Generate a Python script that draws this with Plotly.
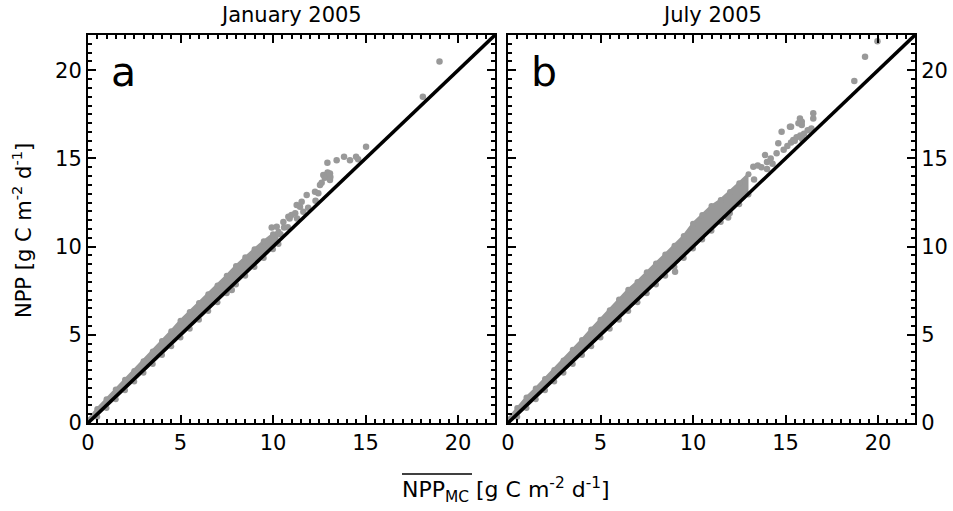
import plotly.graph_objects as go

# ---------------- data ----------------
# 1:1 reference line
line_x = [0, 22]
line_y = [0, 22]

# Panel a (January 2005): dense band of points, upper / lower edge
band_a_x  = [0, 0.5, 1, 1.5, 2, 2.5, 3, 3.5, 4, 4.5, 5, 5.5, 6, 6.5, 7, 7.5, 8, 8.5, 9, 9.5, 10, 10.3]
band_a_hi = [0.15, 0.8, 1.35, 1.9, 2.45, 2.95, 3.5, 4.05, 4.65, 5.2, 5.8, 6.3, 6.8, 7.3, 7.8, 8.35, 8.9, 9.4, 9.85, 10.3, 10.7, 10.85]
band_a_lo = [0, 0.35, 0.85, 1.35, 1.85, 2.35, 2.85, 3.35, 3.85, 4.35, 4.85, 5.35, 5.85, 6.35, 6.85, 7.35, 7.85, 8.35, 8.85, 9.35, 9.85, 10.15]
# Panel a: scattered points outside the dense band
pts_a_x = [7.77, 9.93, 10.2, 10.4, 10.56, 10.6, 10.8, 10.83, 10.9, 11.0, 11.2, 11.28, 11.3, 11.46, 11.55,
           11.64, 11.82, 11.9, 12.27, 12.3, 12.45, 12.54, 12.63, 12.72, 12.8, 12.9, 12.94, 12.95, 13.08,
           13.08, 13.1, 13.44, 13.84, 14.16, 14.49, 14.6, 15.03, 18.1, 19.0]
pts_a_y = [7.54, 11.09, 11.13, 10.7, 11.4, 11.09, 11.1, 11.7, 11.6, 11.8, 11.9, 12.36, 11.6, 12.26, 12.55,
           11.98, 12.93, 12.2, 13.11, 12.6, 13.02, 13.49, 13.62, 14.06, 13.9, 14.0, 14.76, 14.2, 14.15,
           13.78, 13.95, 14.9, 15.1, 14.9, 15.1, 14.95, 15.66, 18.5, 20.5]

# Panel b (July 2005): dense band of points, upper / lower edge
band_b_x  = [0, 0.5, 1, 1.5, 2, 2.5, 3, 3.5, 4, 4.5, 5, 5.5, 6, 6.5, 7, 7.5, 8, 8.5, 9, 9.5, 10,
             10.5, 11, 11.5, 12, 12.5, 13]
band_b_hi = [0.2, 0.85, 1.45, 1.95, 2.5, 3.0, 3.55, 4.15, 4.7, 5.3, 5.85, 6.4, 7.0, 7.55, 8.0, 8.55,
             9.05, 9.55, 10.05, 10.6, 11.3, 11.8, 12.3, 12.65, 13.1, 13.6, 14.1]
band_b_lo = [0, 0.35, 0.85, 1.35, 1.85, 2.35, 2.85, 3.35, 3.85, 4.35, 4.85, 5.35, 5.85, 6.35, 6.85,
             7.35, 7.85, 8.35, 8.85, 9.35, 9.9, 10.4, 10.9, 11.4, 11.9, 12.4, 12.95]
# Panel b: scattered points outside the dense band
pts_b_x = [9.03, 11.9, 13.26, 13.3, 13.5, 13.7, 13.89, 14.0, 14.0, 14.2, 14.3, 14.52, 14.61, 14.79,
           14.9, 15.1, 15.24, 15.3, 15.3, 15.42, 15.5, 15.6, 15.7, 15.78, 15.8, 15.88, 15.88, 15.9,
           16.0, 16.2, 16.4, 16.5, 16.5, 18.72, 19.3, 19.97]
pts_b_y = [8.58, 11.65, 14.53, 13.8, 14.6, 14.5, 15.19, 14.8, 14.4, 15.0, 14.7, 15.29, 15.86, 16.51,
           15.5, 15.7, 16.8, 15.9, 16.8, 16.04, 16.0, 16.2, 16.99, 17.27, 16.3, 16.89, 17.08, 16.1,
           16.4, 16.6, 16.7, 17.56, 17.27, 19.39, 20.77, 21.65]

tick_vals = [0, 5, 10, 15, 20]
tick_text = ["0", "5", "10", "15", "20"]
panel_titles = ["January 2005", "July 2005"]
panel_letters = ["a", "b"]

# ---------------- styling ----------------
GRAY = "#999999"
FONT = "DejaVu Sans"
W, H = 953, 511

fig = go.Figure()

def add_panel(xa, ya, bx, bhi, blo, px, py):
    fig.add_trace(go.Scatter(x=bx, y=blo, mode="lines", line=dict(color=GRAY, width=0),
                             xaxis=xa, yaxis=ya, showlegend=False, hoverinfo="skip"))
    fig.add_trace(go.Scatter(x=bx, y=bhi, mode="lines+markers", fill="tonexty", fillcolor=GRAY,
                             line=dict(color=GRAY, width=3), marker=dict(color=GRAY, size=6),
                             xaxis=xa, yaxis=ya, showlegend=False, hoverinfo="skip"))
    fig.add_trace(go.Scatter(x=bx, y=blo, mode="markers", marker=dict(color=GRAY, size=6),
                             xaxis=xa, yaxis=ya, showlegend=False, hoverinfo="skip"))
    fig.add_trace(go.Scatter(x=px, y=py, mode="markers", marker=dict(color=GRAY, size=6.5),
                             xaxis=xa, yaxis=ya, showlegend=False))
    fig.add_trace(go.Scatter(x=line_x, y=line_y, mode="lines", line=dict(color="black", width=3.5),
                             xaxis=xa, yaxis=ya, showlegend=False))

add_panel("x", "y", band_a_x, band_a_hi, band_a_lo, pts_a_x, pts_a_y)
add_panel("x2", "y2", band_b_x, band_b_hi, band_b_lo, pts_b_x, pts_b_y)

ax_common = dict(
    range=[0, 22], tickvals=tick_vals, ticktext=tick_text,
    ticks="inside", ticklen=8, tickwidth=2, tickcolor="black",
    showline=True, linewidth=2, linecolor="black", mirror="ticks",
    minor=dict(dtick=0.5, ticks="inside", ticklen=4, tickwidth=1.5, tickcolor="black"),
    showgrid=False, zeroline=False, automargin=False,
    tickfont=dict(family=FONT, size=21, color="black"),
)

xa_dom = [88 / W, 495 / W]
xb_dom = [508 / W, 915 / W]
y_dom = [(H - 423) / H, (H - 35) / H]

fig.update_layout(
    width=W, height=H, autosize=False,
    margin=dict(l=0, r=0, t=0, b=0, pad=0, autoexpand=False),
    paper_bgcolor="white", plot_bgcolor="white",
    xaxis=dict(domain=xa_dom, anchor="y", **ax_common),
    yaxis=dict(domain=y_dom, anchor="x", side="left", **ax_common),
    xaxis2=dict(domain=xb_dom, anchor="y2", **ax_common),
    yaxis2=dict(domain=y_dom, anchor="x2", side="right", **ax_common),
    showlegend=False,
)

annots = []
for dom, title in zip([xa_dom, xb_dom], panel_titles):
    annots.append(dict(text=title, x=(dom[0] + dom[1]) / 2, y=(H - 15) / H, xref="paper", yref="paper",
                       xanchor="center", yanchor="middle", showarrow=False,
                       font=dict(family=FONT, size=21, color="black")))
for xr, yr, letter in [("x domain", "y domain", panel_letters[0]), ("x2 domain", "y2 domain", panel_letters[1])]:
    annots.append(dict(text=letter, x=0.052, y=0.905, xref=xr, yref=yr,
                       xanchor="left", yanchor="middle", showarrow=False,
                       font=dict(family=FONT, size=41, color="black")))
annots.append(dict(text="NPP [g C m<sup>-2</sup> d<sup>-1</sup>]", x=22 / W, y=(H - 231) / H,
                   xref="paper", yref="paper", xanchor="center", yanchor="middle", textangle=-90,
                   showarrow=False, font=dict(family=FONT, size=21, color="black")))
annots.append(dict(text="NPP<sub>MC</sub> [g C m<sup>-2</sup> d<sup>-1</sup>]",
                   x=506 / W, y=(H - 490) / H, xref="paper", yref="paper",
                   xanchor="center", yanchor="middle", showarrow=False,
                   font=dict(family=FONT, size=22, color="black")))
fig.update_layout(annotations=annots)

# overline above "NPP_MC" in the x-axis title
fig.add_shape(type="line", xref="paper", yref="paper",
              x0=402 / W, x1=472 / W, y0=(H - 474) / H, y1=(H - 474) / H,
              line=dict(color="black", width=1.5))

fig.write_html("out.html")
